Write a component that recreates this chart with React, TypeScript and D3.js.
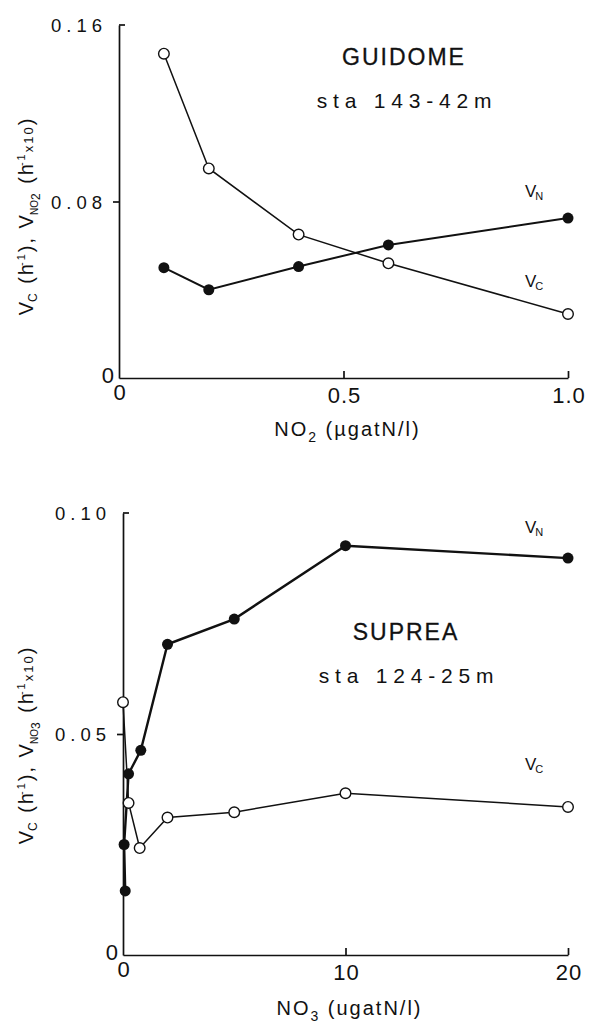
import React, { useEffect, useRef } from 'react';
import * as d3 from 'd3';

// top panel: GUIDOME, NO2 uptake
const topX = [0.1, 0.2, 0.4, 0.6, 1.0];
const topVc = [0.147, 0.095, 0.065, 0.052, 0.029];
const topVn = [0.05, 0.04, 0.0505, 0.0603, 0.0725];
const topXTicks = [0, 0.5, 1.0];
const topXTickLabels = ['0', '0.5', '1.0'];
const topYTicks = [0, 0.08, 0.16];
const topYTickLabels = ['0', '0.08', '0.16'];

// bottom panel: SUPREA, NO3 uptake
const botVnX = [0.1, 0.05, 0.25, 0.8, 2, 5, 10, 20];
const botVn = [0.0145, 0.025, 0.041, 0.0463, 0.0703, 0.076, 0.0926, 0.0898];
const botVcX = [0, 0.25, 0.75, 2, 5, 10, 20];
const botVc = [0.0572, 0.0344, 0.0242, 0.0311, 0.0323, 0.0366, 0.0335];
const botXTicks = [0, 10, 20];
const botXTickLabels = ['0', '10', '20'];
const botYTicks = [0, 0.05, 0.1];
const botYTickLabels = ['0', '0.05', '0.10'];

const FONT = '"Liberation Sans", Arial, sans-serif';
const INK = '#111';

interface PanelProps {
  x0: number; x1: number; y0: number; y1: number;
  xDomain: [number, number]; yDomain: [number, number];
  xTicks: number[]; xTickLabels: string[];
  yTicks: number[]; yTickLabels: string[];
  vcX: number[]; vc: number[];
  vnX: number[]; vn: number[];
  vnWidth: number;
  nut: string; xUnit: string; xTitleY: number;
  title: string; station: string; titleX: number; titleY: number;
  vnLabelY: number; vcLabelY: number; yTitleY: number;
}

const App: React.FC = () => {
  const svgRef = useRef<SVGSVGElement | null>(null);

  useEffect(() => {
    const svg = d3.select(svgRef.current);
    svg.selectAll('*').remove();

    const drawPanel = (p: PanelProps) => {
      const g = svg.append('g');
      const x = d3.scaleLinear().domain(p.xDomain).range([p.x0, p.x1]);
      const y = d3.scaleLinear().domain(p.yDomain).range([p.y0, p.y1]);

      // axes (x ticks point up into the plot)
      g.append('g')
        .attr('transform', `translate(0,${p.y0})`)
        .call(d3.axisBottom(x).tickValues(p.xTicks.slice(1)).tickSize(-7).tickSizeOuter(0).tickFormat(() => ''))
        .call(a => a.selectAll('line,path').attr('stroke', INK).attr('stroke-width', 1.7));
      g.append('g')
        .attr('transform', `translate(${p.x0},0)`)
        .call(d3.axisLeft(y).tickValues(p.yTicks.slice(1, -1)).tickSize(6).tickSizeOuter(0).tickFormat(() => ''))
        .call(a => a.selectAll('line,path').attr('stroke', INK).attr('stroke-width', 1.7));
      // top tick turns inward
      const top = p.yTicks[p.yTicks.length - 1];
      g.append('line')
        .attr('x1', p.x0).attr('x2', p.x0 + 6).attr('y1', y(top)).attr('y2', y(top))
        .attr('stroke', INK).attr('stroke-width', 1.7);

      // tick labels
      p.xTicks.forEach((t, i) => {
        g.append('text')
          .attr('x', x(t) + 1).attr('y', p.y0 + (t === 0 ? 22 : 25))
          .attr('text-anchor', 'middle')
          .attr('font-size', 22).attr('letter-spacing', 1).attr('font-family', FONT).attr('fill', INK)
          .text(p.xTickLabels[i]);
      });
      p.yTicks.forEach((t, i) => {
        g.append('text')
          .attr('x', p.x0 - (t === 0 ? 5 : 12)).attr('y', y(t) + (t === 0 ? 5 : 7))
          .attr('text-anchor', 'end')
          .attr('font-size', t === 0 ? 22 : 18.5).attr('letter-spacing', t === 0 ? 0 : 5)
          .attr('font-family', FONT).attr('fill', INK)
          .text(p.yTickLabels[i]);
      });

      // lines
      const line = d3.line<[number, number]>().x(d => x(d[0])).y(d => y(d[1]));
      const vcPts = p.vcX.map((v, i) => [v, p.vc[i]] as [number, number]);
      const vnPts = p.vnX.map((v, i) => [v, p.vn[i]] as [number, number]);
      g.append('path').attr('d', line(vcPts)).attr('fill', 'none').attr('stroke', INK).attr('stroke-width', 1.5);
      g.append('path').attr('d', line(vnPts)).attr('fill', 'none').attr('stroke', INK).attr('stroke-width', p.vnWidth);

      g.selectAll('circle.vc').data(vcPts).join('circle')
        .attr('cx', d => x(d[0])).attr('cy', d => y(d[1])).attr('r', 5.3)
        .attr('fill', '#fff').attr('stroke', INK).attr('stroke-width', 1.4);
      g.selectAll('circle.vn').data(vnPts).join('circle')
        .attr('cx', d => x(d[0])).attr('cy', d => y(d[1])).attr('r', 5.5)
        .attr('fill', INK);

      // V labels
      const vLabel = (ly: number, sub: string) => {
        const t = g.append('text').attr('x', 525).attr('y', ly)
          .attr('font-size', 17).attr('font-family', FONT).attr('fill', INK);
        t.append('tspan').text('V');
        t.append('tspan').attr('dy', 3).attr('dx', -1).attr('font-size', 11).text(sub);
      };
      vLabel(p.vnLabelY, 'N');
      vLabel(p.vcLabelY, 'C');

      // titles
      g.append('text').attr('x', p.titleX).attr('y', p.titleY)
        .attr('text-anchor', 'middle').attr('font-size', 23).attr('letter-spacing', 2)
        .attr('font-family', FONT).attr('fill', INK).attr('stroke', INK).attr('stroke-width', 0.3)
        .text(p.title);
      g.append('text').attr('x', p.titleX + 3).attr('y', p.titleY + 43)
        .attr('text-anchor', 'middle').attr('font-size', 21).attr('letter-spacing', 5.8)
        .attr('font-family', FONT).attr('fill', INK).text(p.station);

      // x title
      const xt = g.append('text').attr('x', (p.x0 + p.x1) / 2 + 4).attr('y', p.xTitleY)
        .attr('text-anchor', 'middle').attr('font-size', 20).attr('letter-spacing', 2)
        .attr('font-family', FONT).attr('fill', INK);
      xt.append('tspan').text('NO');
      xt.append('tspan').attr('dy', 6).attr('font-size', 14).text(p.nut);
      xt.append('tspan').attr('dy', -6).text(` (${p.xUnit}gatN/l)`);

      // y title
      const yt = g.append('text')
        .attr('transform', `translate(33,${p.yTitleY}) rotate(-90)`)
        .attr('text-anchor', 'middle').attr('font-size', 20).attr('letter-spacing', 2)
        .attr('font-family', FONT).attr('fill', INK);
      yt.append('tspan').text('V');
      yt.append('tspan').attr('dy', 4).attr('dx', -2).attr('font-size', 12).text('C');
      yt.append('tspan').attr('dy', -4).text(' (h');
      yt.append('tspan').attr('dy', -8).attr('dx', -4).attr('font-size', 11).text('-1');
      yt.append('tspan').attr('dy', 8).text('), V');
      yt.append('tspan').attr('dy', 5).attr('dx', -2).attr('font-size', 10).attr('letter-spacing', 0).text('NO');
      yt.append('tspan').attr('dy', 2).attr('font-size', 12).text(p.nut);
      yt.append('tspan').attr('dy', -7).text(' (h');
      yt.append('tspan').attr('dy', -8).attr('dx', -4).attr('font-size', 11).text('-1');
      yt.append('tspan').attr('dy', 8).attr('font-size', 13).text('x10');
      yt.append('tspan').text(')');
    };

    drawPanel({
      x0: 119, x1: 568, y0: 378, y1: 25,
      xDomain: [0, 1], yDomain: [0, 0.16],
      xTicks: topXTicks, xTickLabels: topXTickLabels,
      yTicks: topYTicks, yTickLabels: topYTickLabels,
      vcX: topX, vc: topVc, vnX: topX, vn: topVn, vnWidth: 2,
      nut: '2', xUnit: 'µ', xTitleY: 436,
      title: 'GUIDOME', station: 'sta 143-42m', titleX: 404, titleY: 65,
      vnLabelY: 197, vcLabelY: 287, yTitleY: 216,
    });

    drawPanel({
      x0: 123, x1: 568, y0: 955, y1: 513,
      xDomain: [0, 20], yDomain: [0, 0.1],
      xTicks: botXTicks, xTickLabels: botXTickLabels,
      yTicks: botYTicks, yTickLabels: botYTickLabels,
      vcX: botVcX, vc: botVc, vnX: botVnX, vn: botVn, vnWidth: 2.4,
      nut: '3', xUnit: 'u', xTitleY: 1015,
      title: 'SUPREA', station: 'sta 124-25m', titleX: 406, titleY: 640,
      vnLabelY: 533, vcLabelY: 770, yTitleY: 745,
    });
  }, []);

  return (
    <svg ref={svgRef} width={590} height={1032}
      style={{ position: 'absolute', left: 0, top: 0, background: '#fff' }} />
  );
};

export default App;
